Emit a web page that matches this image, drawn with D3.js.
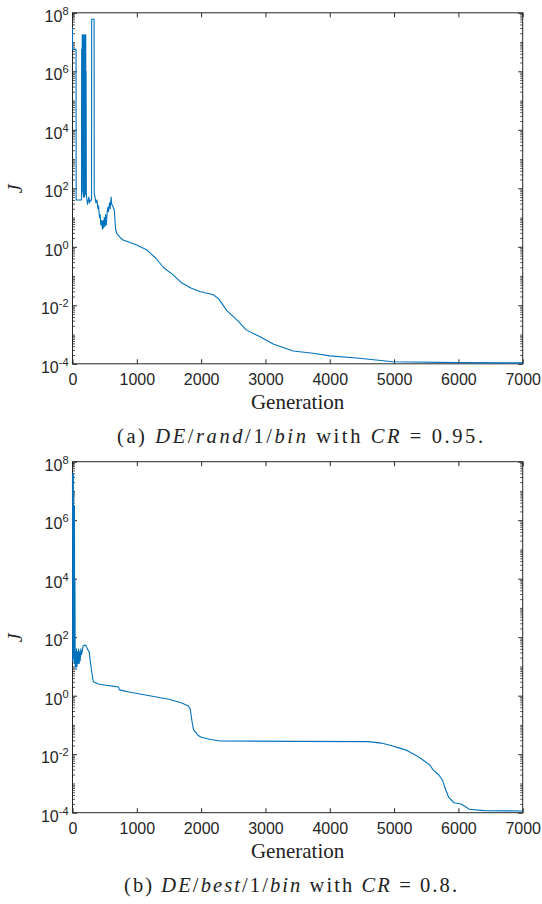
<!DOCTYPE html>
<html>
<head>
<meta charset="utf-8">
<script src="https://cdn.jsdelivr.net/npm/d3@7"></script>
<style>
  body { margin: 0; background: #fff; }
  svg { display: block; }
</style>
</head>
<body>
<div id="chart"></div>
<script>
// generation numbers and log10(J)
let topGen = [0, 2, 55, 57, 140, 142, 150, 152, 156, 158, 161, 164, 167, 170, 173, 176, 179, 182, 185, 188, 191, 194, 197, 200, 203, 206, 209, 212, 215, 225, 235, 245, 255, 265, 280, 296, 298, 336, 338, 350, 365, 380, 395, 405, 420, 430, 440, 455, 465, 475, 485, 495, 505, 515, 525, 540, 550, 560, 575, 585, 600, 610, 625, 650, 670, 690, 750, 785, 850, 1000, 1150, 1200, 1300, 1410, 1560, 1700, 1850, 1980, 2190, 2270, 2400, 2580, 2700, 2910, 3120, 3430, 3740, 4000, 4460, 4980, 6000, 7000];
let topLogJ = [7.5, 6.75, 6.75, 1.6, 1.6, 6.75, 6.75, 7.25, 7.25, 1.9, 7.2, 1.8, 6.8, 1.7, 7.25, 1.9, 6.4, 1.8, 7.0, 1.7, 7.25, 2.0, 6.6, 1.8, 7.25, 7.25, 1.9, 6.0, 1.8, 1.6, 1.45, 1.6, 1.7, 1.5, 1.6, 1.6, 7.78, 7.78, 1.8, 1.7, 1.5, 1.6, 1.3, 1.4, 1.0, 1.1, 0.75, 0.9, 0.6, 0.9, 0.65, 1.0, 0.7, 1.1, 0.75, 1.2, 1.35, 1.2, 1.5, 1.3, 1.7, 1.45, 1.4, 1.25, 0.6, 0.45, 0.3, 0.23, 0.18, 0.06, -0.1, -0.2, -0.4, -0.7, -0.95, -1.24, -1.42, -1.53, -1.64, -1.77, -2.18, -2.55, -2.84, -3.07, -3.32, -3.56, -3.64, -3.73, -3.81, -3.93, -3.96, -3.97];

let botGen = [0, 3, 6, 10, 13, 17, 21, 25, 30, 34, 38, 42, 48, 55, 62, 70, 78, 86, 95, 104, 112, 120, 130, 140, 150, 165, 185, 210, 230, 260, 275, 300, 323, 400, 520, 650, 715, 730, 900, 1200, 1500, 1700, 1800, 1830, 1860, 1880, 1950, 2000, 2150, 2300, 3500, 4600, 4800, 4950, 5100, 5200, 5350, 5450, 5560, 5600, 5700, 5750, 5800, 5850, 5930, 6040, 6100, 6170, 6400, 7000];
let botLogJ = [7.6, 1.2, 7.3, 1.4, 7.6, 1.3, 6.5, 1.1, 6.5, 1.2, 4.0, 1.0, 1.5, 0.9, 1.6, 1.0, 1.5, 1.1, 1.6, 1.1, 1.5, 1.2, 1.6, 1.4, 1.5, 1.7, 1.73, 1.72, 1.6, 1.5, 1.2, 0.8, 0.48, 0.4, 0.36, 0.32, 0.3, 0.2, 0.12, 0.0, -0.12, -0.25, -0.35, -0.45, -0.9, -1.15, -1.35, -1.42, -1.5, -1.55, -1.56, -1.57, -1.62, -1.7, -1.8, -1.87, -2.05, -2.2, -2.38, -2.52, -2.72, -2.88, -3.2, -3.48, -3.66, -3.7, -3.78, -3.88, -3.93, -3.94];

let xTicks = [0, 1000, 2000, 3000, 4000, 5000, 6000, 7000];
let yExponents = [-4, -2, 0, 2, 4, 6, 8];

let svgWidth = 542;
let svgHeight = 904;

let svg = d3.select("#chart")
  .append("svg")
  .attr("width", svgWidth)
  .attr("height", svgHeight);

let axisColor = "#262626";
let lineColor = "#0072bd";
let serif = "Liberation Serif, Times New Roman, serif";
let sans = "Liberation Sans, Arial, sans-serif";

function makePanel(top, gens, logJ, caption) {
  let left = 72.5, right = 522.7;
  let plotH = 351;

  let x = d3.scaleLinear().domain([0, 7000]).range([left, right]);
  let y = d3.scaleLog().domain([1e-4, 1e8]).range([top + plotH, top]);

  let g = svg.append("g");

  // minor log ticks, 2..9 x 10^n plus odd decades
  let minor = [];
  for (let e = -4; e < 8; e++) {
    for (let k = 1; k < 10; k++) {
      if (k == 1 && yExponents.includes(e)) continue;
      minor.push(k * Math.pow(10, e));
    }
  }

  [[d3.axisLeft, left], [d3.axisRight, right]].forEach(([ax, pos]) => {
    g.append("g")
      .attr("transform", `translate(${pos},0)`)
      .call(ax(y).tickValues(minor).tickSize(-2.5).tickFormat(""))
      .call(s => s.select(".domain").remove())
      .call(s => s.selectAll("line").attr("stroke", axisColor).attr("stroke-width", 0.8));
  });

  let major = yExponents.map(e => Math.pow(10, e));

  g.append("g")
    .attr("transform", `translate(${right},0)`)
    .call(d3.axisRight(y).tickValues(major).tickSize(-4.5).tickFormat(""))
    .call(s => s.select(".domain").remove())
    .call(s => s.selectAll("line").attr("stroke", axisColor));

  let yAxis = g.append("g")
    .attr("transform", `translate(${left},0)`)
    .call(d3.axisLeft(y).tickValues(major).tickSize(-4.5).tickPadding(0).tickFormat(""))
    .call(s => s.select(".domain").remove())
    .call(s => s.selectAll("line").attr("stroke", axisColor));

  yAxis.selectAll(".tick").each(function(d) {
    let t = d3.select(this).append("text")
      .attr("x", -4)
      .attr("y", 8.5)
      .attr("text-anchor", "end")
      .attr("fill", axisColor)
      .attr("font-family", sans)
      .attr("font-size", 16);
    t.append("tspan").text("10");
    t.append("tspan").attr("dy", -7).attr("font-size", 11).text(Math.round(Math.log10(d)));
  });

  // x axis bottom + top
  g.append("g")
    .attr("transform", `translate(0,${top + plotH})`)
    .call(d3.axisBottom(x).tickValues(xTicks).tickSize(-4.5).tickPadding(10).tickFormat(d3.format("d")))
    .call(s => s.select(".domain").remove())
    .call(s => s.selectAll("line").attr("stroke", axisColor))
    .call(s => s.selectAll("text")
      .attr("fill", axisColor)
      .attr("font-family", sans)
      .attr("font-size", 16));

  g.append("g")
    .attr("transform", `translate(0,${top})`)
    .call(d3.axisTop(x).tickValues(xTicks).tickSize(-4.5).tickFormat(""))
    .call(s => s.select(".domain").remove())
    .call(s => s.selectAll("line").attr("stroke", axisColor));

  // box
  g.append("rect")
    .attr("x", left).attr("y", top)
    .attr("width", right - left).attr("height", plotH)
    .attr("fill", "none")
    .attr("stroke", axisColor)
    .attr("stroke-width", 1);

  let pts = gens.map((d, i) => [d, Math.pow(10, logJ[i])]);
  let line = d3.line()
    .x(d => x(d[0]))
    .y(d => y(d[1]));

  g.append("path")
    .datum(pts)
    .attr("d", line)
    .attr("fill", "none")
    .attr("stroke", lineColor)
    .attr("stroke-width", 1.1)
    .attr("stroke-linejoin", "round");

  g.append("text")
    .attr("x", (left + right) / 2)
    .attr("y", top + plotH + 45)
    .attr("text-anchor", "middle")
    .attr("font-family", serif)
    .attr("font-size", 21)
    .attr("fill", "#222")
    .text("Generation");

  g.append("text")
    .attr("transform", `translate(22, ${top + 176}) rotate(-90)`)
    .attr("text-anchor", "middle")
    .attr("font-family", serif)
    .attr("font-style", "italic")
    .attr("font-size", 20)
    .attr("fill", "#222")
    .text("J");

  let cap = g.append("text")
    .attr("x", caption.cx)
    .attr("y", top + plotH + 79)
    .attr("text-anchor", "middle")
    .attr("font-family", serif)
    .attr("font-size", 20.5)
    .attr("textLength", caption.w)
    .attr("lengthAdjust", "spacing")
    .attr("fill", "#222");
  caption.parts.forEach(p => {
    cap.append("tspan").attr("font-style", p[1] ? "italic" : "normal").text(p[0]);
  });
}

makePanel(12.8, topGen, topLogJ, {
  cx: 300, w: 366,
  parts: [["(a)  ", false], ["DE", true], ["/", false], ["rand", true], ["/1/", false], ["bin", true], [" with ", false], ["CR", true], [" = 0.95.", false]]
});
makePanel(461.7, botGen, botLogJ, {
  cx: 290.5, w: 333,
  parts: [["(b)  ", false], ["DE", true], ["/", false], ["best", true], ["/1/", false], ["bin", true], [" with ", false], ["CR", true], [" = 0.8.", false]]
});
</script>
</body>
</html>
